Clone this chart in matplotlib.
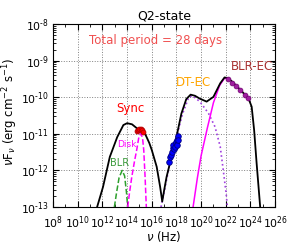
import numpy as np
import matplotlib
matplotlib.use("Agg")
import matplotlib.pyplot as plt
from matplotlib.ticker import LogLocator, NullFormatter, FuncFormatter

# ======================
# DATA (log10 nu [Hz], log10 nuFnu [erg cm^-2 s^-1])
# ======================
total_lognu = [11.57, 12.05, 12.6, 13.2, 13.7, 14.0, 14.4, 14.8, 15.2, 15.46, 15.8, 16.0,
               16.4, 16.68, 16.85, 17.0, 17.2, 17.6, 18.0, 18.4, 18.8, 19.15, 19.5, 19.9,
               20.45, 21.0, 21.55, 21.9, 22.2, 22.6, 23.3, 23.84, 24.1, 24.3, 24.5, 24.79]
total_logf = [-13.0, -12.45, -11.63, -11.09, -10.76, -10.71, -10.74, -10.85, -10.95, -11.0,
              -11.25, -11.44, -11.9, -12.45, -12.85, -12.55, -12.18, -11.63, -11.09, -10.45,
              -10.05, -9.93, -9.96, -10.04, -10.12, -9.99, -9.62, -9.46, -9.48, -9.6, -9.84,
              -10.03, -10.26, -10.9, -11.8, -13.0]

blr_lognu = [12.97, 13.15, 13.35, 13.6, 13.8, 13.95, 14.05]
blr_logf = [-13.0, -12.6, -12.2, -12.0, -12.15, -12.6, -13.0]

disk_lognu = [14.05, 14.2, 14.38, 14.6, 14.78, 14.95, 15.1, 15.25, 15.35, 15.46, 15.56]
disk_logf = [-13.0, -12.6, -12.18, -11.75, -11.44, -11.1, -10.99, -11.1, -11.44, -12.18, -13.0]

ssc_lognu = [16.75, 17.0, 17.5, 18.0, 18.5, 19.0, 19.3, 19.9, 20.6, 21.13, 21.55, 21.8, 22.03, 22.13]
ssc_logf = [-13.0, -12.6, -11.75, -11.1, -10.45, -10.0, -9.96, -10.12, -10.44, -10.81, -11.35,
            -12.0, -12.63, -13.0]

ec_lognu = [19.35, 19.7, 20.0, 20.5, 21.0, 21.5, 21.9, 22.3]
ec_logf = [-13.0, -12.2, -11.6, -10.85, -10.15, -9.68, -9.48, -9.5]

opt_lognu = [14.8, 14.9, 15.0, 15.1, 15.2, 15.3]
opt_logf = [-10.93, -10.9, -10.88, -10.87, -10.9, -10.94]

xray_lognu = [17.43, 17.49, 17.58, 17.62, 17.7, 17.76, 17.82, 17.89, 17.95, 18.0, 18.03,
              18.08, 18.12, 18.16]
xray_logf = [-11.77, -11.63, -11.58, -11.5, -11.4, -11.31, -11.42, -11.35, -11.26, -11.22,
             -11.17, -11.3, -11.05, -11.17]

gamma_lognu = [22.2, 22.5, 22.84, 23.17, 23.52, 23.84]
gamma_logf = [-9.5, -9.6, -9.69, -9.8, -9.93, -10.03]

# ======================
# PLOT
# ======================
fig = plt.figure(figsize=(3.05, 2.45), dpi=100)
ax = fig.add_axes([0.174, 0.155, 0.728, 0.747])

def p(lx, ly):
    return 10.0 ** np.array(lx), 10.0 ** np.array(ly)

ax.plot(*p(blr_lognu, blr_logf), "--", color="#2ca02c", lw=1.1)
ax.plot(*p(disk_lognu, disk_logf), "--", color="magenta", lw=1.1)
ax.plot(*p(ssc_lognu, ssc_logf), ":", color="#a040e0", lw=1.2)
ax.plot(*p(ec_lognu, ec_logf), "-", color="magenta", lw=1.1)
ax.plot(*p(total_lognu, total_logf), "-", color="black", lw=1.3)

ax.plot(*p(opt_lognu, opt_logf), "o", ms=3.5, mfc="red", mec="#b00000", mew=0.6)
ax.plot(*p(xray_lognu, xray_logf), "o", ms=4, mfc="blue", mec="navy", mew=0.6)
ax.plot(*p(gamma_lognu, gamma_logf), "o", ms=3.5, mfc="#a020a0", mec="#700070", mew=0.5)

ax.set_xscale("log")
ax.set_yscale("log")
ax.set_xlim(1e8, 1e26)
ax.set_ylim(1e-13, 1e-8)

# tick labels: 10 with small exponent, short hyphen for negatives
def fmt_pow(v, pos):
    e = int(round(np.log10(v)))
    if e < 0:
        return r"$10^{\text{-}%d}$" % (-e)
    return r"$10^{%d}$" % e

fmt = FuncFormatter(fmt_pow)
ax.xaxis.set_major_locator(LogLocator(base=100.0, numticks=20))
ax.xaxis.set_major_formatter(fmt)
ax.xaxis.set_minor_locator(LogLocator(base=10.0, subs=(1.0,), numticks=30))
ax.xaxis.set_minor_formatter(NullFormatter())
ax.yaxis.set_major_locator(LogLocator(base=10.0, numticks=10))
ax.yaxis.set_major_formatter(fmt)
ax.tick_params(which="both", direction="in", top=True, right=True, labelsize=7.8)
ax.tick_params(axis="x", pad=5)
ax.tick_params(axis="y", pad=3)
ax.tick_params(which="major", length=4)
ax.tick_params(which="minor", length=2)
ax.grid(True, which="major", linestyle=":", color="gray", lw=0.7)

ax.set_xlabel(r"$\nu$ (Hz)", fontsize=8.5, labelpad=-1)
ax.set_ylabel(r"$\nu$F$_\nu$ (erg cm$^{-2}$ s$^{-1}$)", fontsize=8.5)
ax.yaxis.set_label_coords(-0.15, 0.52)
ax.set_title("Q2-state", fontsize=9, pad=3)

ax.text(0.46, 0.91, "Total period = 28 days", transform=ax.transAxes, color="#f05050",
        fontsize=8.5, ha="center", va="center")
ax.text(10**14.25, 10**-10.3, "Sync", color="red", fontsize=8.5, ha="center", va="center")
ax.text(10**13.97, 10**-11.3, "Disk", color="magenta", fontsize=6.5, ha="center", va="center")
ax.text(10**13.43, 10**-11.8, "BLR", color="#3a9a3a", fontsize=7, ha="center", va="center")
ax.text(10**19.4, 10**-9.6, "DT-EC", color="orange", fontsize=8.5, ha="center", va="center")
ax.text(10**24.1, 10**-9.17, "BLR-EC", color="#a83232", fontsize=8.5, ha="center", va="center")

fig.savefig("out.png", dpi=100)
